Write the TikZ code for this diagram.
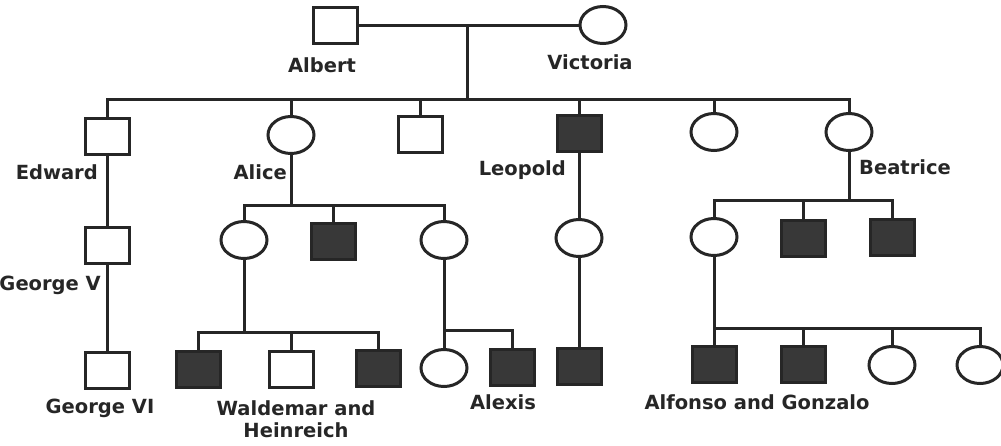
\documentclass[tikz,border=0pt]{standalone}
\usepackage{fontspec}
\setmainfont{DejaVu Sans}
\usetikzlibrary{shapes.geometric}
\definecolor{ink}{HTML}{262626}
\definecolor{affc}{HTML}{383838}
\tikzset{
  male/.style={rectangle, draw=ink, line width=3pt, minimum width=44pt, minimum height=36pt, inner sep=0pt, fill=white},
  female/.style={ellipse, draw=ink, line width=3pt, minimum width=46pt, minimum height=37pt, inner sep=0pt, fill=white},
  aff/.style={fill=affc},
  lbl/.style={font=\bfseries\fontsize{19.5}{22}\selectfont, text=ink, inner sep=0pt, align=center},
  link/.style={draw=ink, line width=3pt}
}
\begin{document}
\begin{tikzpicture}[x=1pt,y=-1pt]
\useasboundingbox (0,0) rectangle (1001,445);
% generation 1
\node[male] (albert) at (335,25) {};
\node[female] (victoria) at (603,25) {};
\node[lbl] (lalbert) at (322,65) {Albert};
\node[lbl] (lvictoria) at (590,62) {Victoria};
% generation 2
\node[male] (edward) at (107,136) {};
\node[female] (alice) at (291,135) {};
\node[male] (son3) at (420,134) {};
\node[male, aff] (leopold) at (579,133) {};
\node[female] (dau5) at (714,132) {};
\node[female] (beatrice) at (849,132) {};
\node[lbl, anchor=east] (ledward) at (98,172) {Edward};
\node[lbl, anchor=east] (lalice) at (287,172) {Alice};
\node[lbl, anchor=east] (lleopold) at (566,170) {Leopold};
\node[lbl, anchor=west] (lbeatrice) at (859,167) {Beatrice};
% generation 3
\node[male] (georgeV) at (107,245) {};
\node[lbl, anchor=east] (lgeorgeV) at (101,285) {George V};
\node[female] (ac1) at (244,240) {};
\node[male, aff] (ac2) at (333,241) {};
\node[female] (ac3) at (444,240) {};
\node[female] (lc) at (579,238) {};
\node[female] (bc1) at (714,237) {};
\node[male, aff] (bc2) at (803,238) {};
\node[male, aff] (bc3) at (892,237) {};
% generation 4
\node[male] (georgeVI) at (107,370) {};
\node[lbl] (lgeorgeVI) at (100,408) {George VI};
\node[male, aff] (w1) at (198,369) {};
\node[male] (w2) at (291,369) {};
\node[male, aff] (w3) at (378,368) {};
\node[lbl] (lwald) at (296,419) {Waldemar and\\Heinreich};
\node[female] (ac3d) at (444,368) {};
\node[male, aff] (alexis) at (512,367) {};
\node[lbl] (lalexis) at (503,402) {Alexis};
\node[male, aff] (lg) at (579,366) {};
\node[male, aff] (af1) at (714,364) {};
\node[male, aff] (af2) at (803,364) {};
\node[female] (bc4) at (892,365) {};
\node[female] (bc5) at (980,365) {};
\node[lbl] (lalf) at (757,402) {Alfonso and Gonzalo};
% junctions
\coordinate (mar) at (467,25);
\coordinate (sib1) at (467,99);
\coordinate (aj) at (291,205);
\coordinate (bj) at (849,200);
\coordinate (wj) at (244,332);
\coordinate (xj) at (444,330);
\coordinate (fj) at (714,328);
% connectors gen 1
\draw[link] (albert.east) -- (victoria.west);
\draw[link] (mar) -- (sib1);
\draw[link] (edward.north) |- (sib1) -| (beatrice.north);
\foreach \n in {alice, son3, leopold, dau5}
  \draw[link] (\n.north) -- (\n.north |- sib1);
% Edward line
\draw[link] (edward.south) -- (georgeV.north);
\draw[link] (georgeV.south) -- (georgeVI.north);
% Alice line
\draw[link] (alice.south) -- (aj);
\draw[link] (ac1.north) |- (aj) -| (ac3.north);
\draw[link] (ac2.north) -- (ac2.north |- aj);
\draw[link] (ac1.south) -- (wj);
\draw[link] (w1.north) |- (wj) -| (w3.north);
\draw[link] (w2.north) -- (w2.north |- wj);
\draw[link] (ac3.south) -- (ac3d.north);
\draw[link] (xj) -| (alexis.north);
% Leopold line
\draw[link] (leopold.south) -- (lc.north);
\draw[link] (lc.south) -- (lg.north);
% Beatrice line
\draw[link] (beatrice.south) -- (bj);
\draw[link] (bc1.north) |- (bj) -| (bc3.north);
\draw[link] (bc2.north) -- (bc2.north |- bj);
\draw[link] (bc1.south) -- (af1.north);
\draw[link] (fj) -| (bc5.north);
\draw[link] (af2.north) -- (af2.north |- fj);
\draw[link] (bc4.north) -- (bc4.north |- fj);
\end{tikzpicture}
\end{document}
